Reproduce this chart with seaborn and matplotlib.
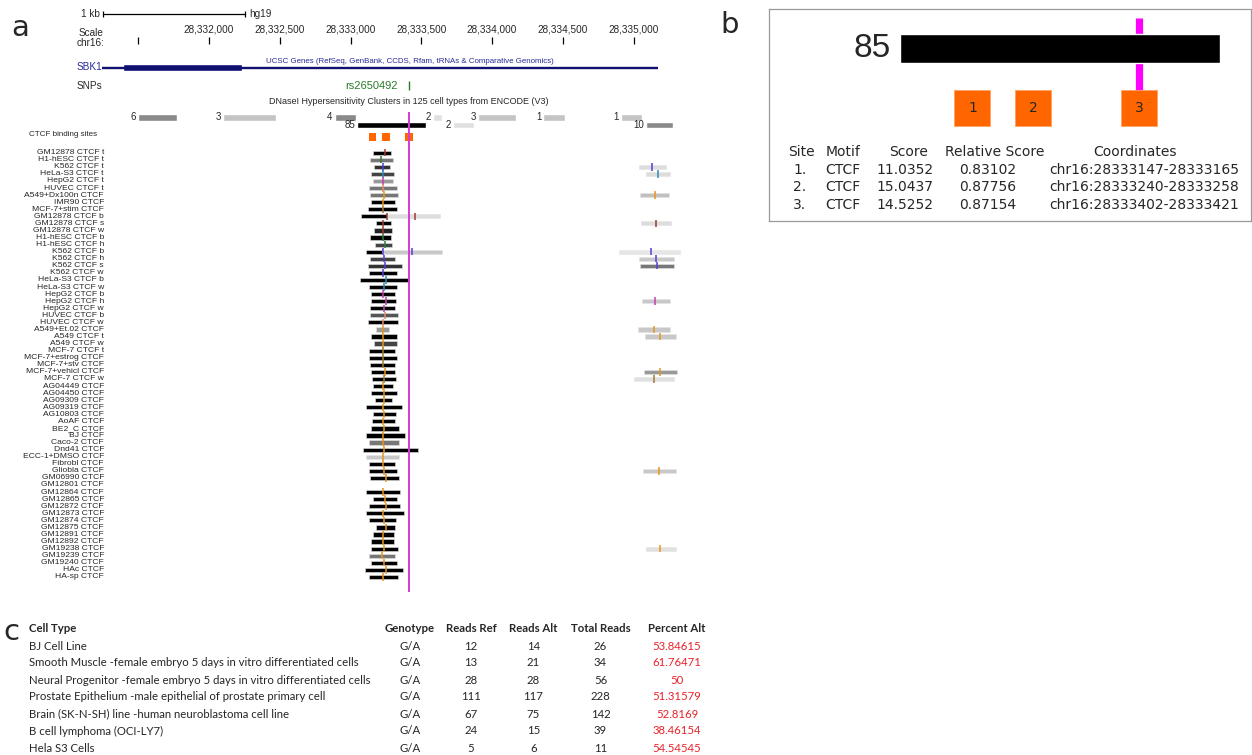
import numpy as np
import pandas as pd
import seaborn as sns
import matplotlib.pyplot as plt

# Figure size in pixels (saved at dpi=100)
W, H = 1252, 755

# ---------------- data ----------------
snp_name = "rs2650492"
snp_pos = 28333411

gene_name = "SBK1"
gene_start, gene_end = 28331245, 28335172
gene_cds_start, gene_cds_end = 28331395, 28332235

scale_ticks = [28331500, 28332000, 28332500, 28333000, 28333500, 28334000, 28334500, 28335000]

# DNaseI clusters (score = number of cell types)
dnase_start = [28331496, 28332099, 28332887, 28333045, 28333583, 28333724, 28333904, 28334363, 28334909, 28335087]
dnase_end = [28331773, 28332473, 28333037, 28333535, 28333643, 28333872, 28334169, 28334515, 28335059, 28335278]
dnase_score = [6, 3, 4, 85, 2, 2, 3, 1, 1, 10]
dnase_row = [0, 0, 0, 1, 0, 1, 0, 0, 0, 1]
dnase_shade = ["#8a8a8a", "#c4c4c4", "#8a8a8a", "#000000", "#e0e0e0",
               "#e0e0e0", "#c4c4c4", "#c4c4c4", "#c4c4c4", "#8a8a8a"]

# CTCF motif sites
site_start = [28333147, 28333240, 28333402]
site_end = [28333165, 28333258, 28333421]
site_motif = ["CTCF", "CTCF", "CTCF"]
site_score = ["11.0352", "15.0437", "14.5252"]
site_rel_score = ["0.83102", "0.87756", "0.87154"]

ctcf_tracks = [
    "GM12878 CTCF t", "H1-hESC CTCF t", "K562 CTCF t", "HeLa-S3 CTCF t", "HepG2 CTCF t",
    "HUVEC CTCF t", "A549+Dx100n CTCF", "IMR90 CTCF", "MCF-7+stim CTCF", "GM12878 CTCF b",
    "GM12878 CTCF s", "GM12878 CTCF w", "H1-hESC CTCF b", "H1-hESC CTCF h", "K562 CTCF b",
    "K562 CTCF h", "K562 CTCF s", "K562 CTCF w", "HeLa-S3 CTCF b", "HeLa-S3 CTCF w",
    "HepG2 CTCF b", "HepG2 CTCF h", "HepG2 CTCF w", "HUVEC CTCF b", "HUVEC CTCF w",
    "A549+Et.02 CTCF", "A549 CTCF t", "A549 CTCF w", "MCF-7 CTCF t", "MCF-7+estrog CTCF",
    "MCF-7+stv CTCF", "MCF-7+vehicl CTCF", "MCF-7 CTCF w", "AG04449 CTCF", "AG04450 CTCF",
    "AG09309 CTCF", "AG09319 CTCF", "AG10803 CTCF", "AoAF CTCF", "BE2_C CTCF",
    "BJ CTCF", "Caco-2 CTCF", "Dnd41 CTCF", "ECC-1+DMSO CTCF", "Fibrobl CTCF",
    "Gliobla CTCF", "GM06990 CTCF", "GM12801 CTCF", "GM12864 CTCF", "GM12865 CTCF",
    "GM12872 CTCF", "GM12873 CTCF", "GM12874 CTCF", "GM12875 CTCF", "GM12891 CTCF",
    "GM12892 CTCF", "GM19238 CTCF", "GM19239 CTCF", "GM19240 CTCF", "HAc CTCF",
    "HA-sp CTCF",
]

# peak over the SNP cluster, one per track (None = no peak)
main_start = [28333157, 28333137, 28333166, 28333147, 28333157, 28333128, 28333135, 28333147, 28333123, 28333076,
              28333182, 28333166, 28333135, 28333171, 28333109, 28333140, 28333121, 28333128, 28333067, 28333133,
              28333142, 28333147, 28333137, 28333137, 28333123, 28333178, 28333142, 28333166, 28333130, 28333128,
              28333137, 28333147, 28333152, 28333159, 28333142, 28333173, 28333111, 28333159, 28333152, 28333147,
              28333109, 28333128, 28333086, 28333111, 28333133, 28333128, 28333137, None, 28333107, 28333161,
              28333128, 28333111, 28333133, 28333182, 28333159, 28333147, 28333142, 28333133, 28333147, 28333102,
              28333128]
main_end = [28333286, 28333302, 28333281, 28333307, 28333302, 28333326, 28333337, 28333312, 28333326, 28333260,
            28333284, 28333291, 28333286, 28333291, 28333224, 28333316, 28333361, 28333326, 28333415, 28333326,
            28333312, 28333321, 28333314, 28333337, 28333337, 28333270, 28333326, 28333326, 28333314, 28333326,
            28333312, 28333314, 28333319, 28333298, 28333326, 28333291, 28333361, 28333321, 28333314, 28333345,
            28333387, 28333340, 28333475, 28333340, 28333314, 28333330, 28333345, None, 28333352, 28333330,
            28333349, 28333376, 28333319, 28333316, 28333305, 28333305, 28333337, 28333316, 28333326, 28333371,
            28333337]
main_summit = [28333243, 28333217, 28333231, 28333227, 28333227, 28333227, 28333239, 28333231, 28333227, 28333260,
               28333231, 28333231, 28333227, 28333246, 28333231, 28333239, 28333246, 28333227, 28333248, 28333239,
               28333229, 28333251, 28333234, 28333241, 28333231, 28333231, 28333231, 28333231, 28333227, 28333227,
               28333227, 28333241, 28333236, 28333231, 28333236, 28333236, 28333231, 28333239, 28333231, 28333236,
               28333231, 28333231, 28333239, 28333227, 28333231, 28333239, 28333248, None, 28333231, 28333246,
               28333248, 28333231, 28333239, 28333253, 28333227, 28333231, 28333239, 28333224, 28333239, 28333248,
               28333231]
main_shade = ["#000000", "#777777", "#333333", "#444444", "#999999", "#777777", "#777777", "#000000", "#000000", "#000000",
              "#000000", "#222222", "#000000", "#444444", "#000000", "#444444", "#333333", "#000000", "#000000", "#000000",
              "#000000", "#000000", "#000000", "#555555", "#000000", "#999999", "#000000", "#444444", "#000000", "#000000",
              "#000000", "#000000", "#000000", "#000000", "#000000", "#000000", "#000000", "#000000", "#000000", "#000000",
              "#000000", "#777777", "#000000", "#c8c8c8", "#000000", "#000000", "#000000", None, "#000000", "#000000",
              "#000000", "#000000", "#000000", "#000000", "#000000", "#000000", "#000000", "#777777", "#000000", "#000000",
              "#000000"]

# weak peaks that extend right of the main peak
ext_track = ["GM12878 CTCF b", "K562 CTCF b"]
ext_start = [28333260, 28333224]
ext_end = [28333634, 28333646]
ext_summit = [28333458, 28333432]
ext_shade = ["#dddddd", "#c8c8c8"]

# peaks near the right edge of the window
right_track = ["K562 CTCF t", "HeLa-S3 CTCF t", "A549+Dx100n CTCF", "GM12878 CTCF s", "K562 CTCF b",
               "K562 CTCF h", "K562 CTCF s", "HepG2 CTCF h", "A549+Et.02 CTCF", "A549 CTCF t",
               "MCF-7+vehicl CTCF", "MCF-7 CTCF w", "Gliobla CTCF", "GM19238 CTCF"]
right_start = [28335038, 28335087, 28335045, 28335052, 28334899, 28335038, 28335043, 28335059, 28335033, 28335080,
               28335073, 28335003, 28335066, 28335087]
right_end = [28335227, 28335255, 28335248, 28335266, 28335330, 28335283, 28335283, 28335255, 28335259, 28335299,
             28335306, 28335283, 28335297, 28335297]
right_summit = [28335132, 28335174, 28335149, 28335160, 28335121, 28335160, 28335165, 28335153, 28335144, 28335188,
                28335188, 28335144, 28335181, 28335188]
right_shade = ["#dddddd", "#dddddd", "#c0c0c0", "#dddddd", "#e6e6e6", "#c8c8c8", "#777777", "#c8c8c8", "#c8c8c8",
               "#c8c8c8", "#999999", "#e0e0e0", "#c8c8c8", "#e0e0e0"]

# summit tick colours by cell line
cell_color = {"GM12878": "#9c3d2e", "H1-hESC": "#2e7d3a", "K562": "#4f3fd6", "HeLa-S3": "#2b8fb5",
              "HepG2": "#c23fb0", "HUVEC": "#e08c6c", "MCF-7": "#a87a2e", "MCF-7+stim": "#a87a2e",
              "MCF-7+estrog": "#a87a2e", "MCF-7+stv": "#a87a2e"}
default_tick = "#e8951c"

# panel c: allele-specific reads
cell_types = ["BJ Cell Line",
              "Smooth Muscle -female embryo 5 days in vitro differentiated cells",
              "Neural Progenitor -female embryo 5 days in vitro differentiated cells",
              "Prostate Epithelium -male epithelial of prostate primary cell",
              "Brain (SK-N-SH) line -human neuroblastoma cell line",
              "B cell lymphoma (OCI-LY7)",
              "Hela S3 Cells"]
genotype = ["G/A"] * 7
reads_ref = [12, 13, 28, 111, 67, 24, 5]
reads_alt = [14, 21, 28, 117, 75, 15, 6]
total_reads = [26, 34, 56, 228, 142, 39, 11]
percent_alt = ["53.84615", "61.76471", "50", "51.31579", "52.8169", "38.46154", "54.54545"]

# ---------------- layout ----------------
sns.set_theme(style="white")
plt.rcParams["font.family"] = ["Liberation Sans", "DejaVu Sans"]

fig = plt.figure(figsize=(W / 100, H / 100), dpi=100)


def px_axes(x0, y0, x1, y1):
    return fig.add_axes([x0 / W, 1 - y1 / H, (x1 - x0) / W, (y1 - y0) / H])


# panel a: genome browser, x in bp, y in pixel rows
A_W, A_H = 700, 600
BP_PER_PX = 7.065
REF_PX = 350.54  # pixel column of 28,333,000
ax_a = px_axes(0, 0, A_W, A_H)
ax_a.set_xlim(28333000 - REF_PX * BP_PER_PX, 28333000 + (A_W - REF_PX) * BP_PER_PX)
ax_a.set_ylim(A_H, 0)
ax_a.axis("off")

# 1 kb ruler
ruler_left = 28331251
ax_a.plot([ruler_left, ruler_left + 1000], [14, 14], color="black", lw=0.9)
ax_a.vlines([ruler_left, ruler_left + 1000], 11, 17, color="black", lw=0.9)
ax_a.annotate("1 kb", (ruler_left, 14), xytext=(-3, 0), textcoords="offset pixels",
              ha="right", va="center", fontsize=7.2)
ax_a.annotate("hg19", (ruler_left + 1000, 14), xytext=(5, 0), textcoords="offset pixels",
              ha="left", va="center", fontsize=7.2)

# chromosome scale
ax_a.vlines(scale_ticks, 36.7, 44.3, color="black", lw=0.9)
for t in scale_ticks[1:]:
    ax_a.text(t, 30, f"{t:,}", ha="center", va="center", fontsize=7.2)

# gene model
navy = "#101070"
ax_a.plot([gene_start, gene_end], [67.5, 67.5], color=navy, lw=1.7, solid_capstyle="butt")
ax_a.barh(67.3, gene_cds_end - gene_cds_start, left=gene_cds_start, height=7.4, color=navy)

# SNP
ax_a.vlines(snp_pos, 81, 90, color="#2a7a2a", lw=1)
ax_a.annotate(snp_name, (snp_pos, 85.7), xytext=(-11, 0), textcoords="offset pixels",
              ha="right", va="center", fontsize=8, color="#2a7a2a")

# DNaseI clusters
for s, e, sc, r, c in zip(dnase_start, dnase_end, dnase_score, dnase_row, dnase_shade):
    y = 117.5 + r * 7.2
    ax_a.barh(y, e - s, left=s, height=6.4, color=c)
    ax_a.annotate(str(sc), (s, y), xytext=(-2, 0), textcoords="offset pixels",
                  ha="right", va="center", fontsize=7)

# CTCF motif sites
site_mid = [(s + e) / 2 for s, e in zip(site_start, site_end)]
sns.scatterplot(x=site_mid, y=[137] * len(site_mid), marker="s", s=30, color="#ff6600",
                edgecolor="none", ax=ax_a, zorder=3)

# SNP line through the tracks
ax_a.vlines(snp_pos, 112, 592, color="#d63bd6", lw=1.4, zorder=4)

# CTCF tracks
TRACK_Y0, TRACK_DY = 152.7, 7.07
track_y = {name: TRACK_Y0 + i * TRACK_DY for i, name in enumerate(ctcf_tracks)}

rows = []
for name, s, e, sm, c in zip(ctcf_tracks, main_start, main_end, main_summit, main_shade):
    if s is not None:
        rows.append((name, s, e, sm, c))
for grp in [zip(ext_track, ext_start, ext_end, ext_summit, ext_shade),
            zip(right_track, right_start, right_end, right_summit, right_shade)]:
    rows.extend(grp)
peaks = pd.DataFrame(rows, columns=["track", "start", "end", "summit", "shade"])
peaks["y"] = peaks["track"].map(track_y)
peaks["cell"] = peaks["track"].str.split().str[0]

ax_a.barh(peaks["y"], peaks["end"] - peaks["start"], left=peaks["start"], height=4.2,
          color=peaks["shade"], edgecolor="#e4e4e4", linewidth=0.4, zorder=2)

palette = {c: cell_color.get(c, default_tick) for c in peaks["cell"].unique()}
sns.scatterplot(data=peaks, x="summit", y="y", hue="cell", palette=palette, marker="|",
                s=28, linewidth=1.1, legend=False, ax=ax_a, zorder=3)
ax_a.set_xlabel("")
ax_a.set_ylabel("")

# panel b: zoom on the 85 cluster
cl_start, cl_end = dnase_start[3], dnase_end[3]
B_X0, B_X1, B_Y0, B_Y1 = 769, 1251, 9, 221
BAR_PX0, BAR_PX1 = 900, 1220
bpp = (cl_end - cl_start) / (BAR_PX1 - BAR_PX0)
ax_b = px_axes(B_X0, B_Y0, B_X1, B_Y1)
ax_b.set_xlim(cl_start - (BAR_PX0 - B_X0) * bpp, cl_end + (B_X1 - BAR_PX1) * bpp)
ax_b.set_ylim(B_Y1, B_Y0)
ax_b.set_xticks([])
ax_b.set_yticks([])
for sp in ax_b.spines.values():
    sp.set_visible(True)
    sp.set_color("#999999")
    sp.set_linewidth(0.9)

ax_b.vlines(snp_pos, 18.3, 93, color="#ff00ff", lw=5.2, zorder=1)
ax_b.barh(48.5, cl_end - cl_start, left=cl_start, height=28.4, color="black", zorder=2)
ax_b.annotate(str(dnase_score[3]), (cl_start, 48.5), xytext=(-9, 0), textcoords="offset pixels",
              ha="right", va="center", fontsize=24)
sns.scatterplot(x=site_mid, y=[107.5] * 3, marker="s", s=640, color="#ff6600",
                edgecolor="#ffa060", linewidth=0.6, ax=ax_b, zorder=3)
for i, m in enumerate(site_mid):
    ax_b.text(m, 108, str(i + 1), ha="center", va="center", fontsize=10,
              family="DejaVu Sans", zorder=4)
ax_b.set_xlabel("")
ax_b.set_ylabel("")

# overlay for free text, in pixel coordinates
ax_t = px_axes(0, 0, W, H)
ax_t.set_xlim(0, W)
ax_t.set_ylim(H, 0)
ax_t.axis("off")
ax_t.patch.set_alpha(0)

# panel letters
for letter, x, y in [("a", 20.5, 28), ("b", 729.5, 25), ("c", 11.5, 632)]:
    ax_t.text(x, y, letter, ha="center", va="center", fontsize=21, family="DejaVu Sans")

ax_t.text(91.5, 33.3, "Scale", ha="center", va="center", fontsize=7.2)
ax_t.text(91, 43.5, "chr16:", ha="center", va="center", fontsize=7.2)
ax_t.text(77, 67.3, gene_name, ha="left", va="center", fontsize=7.2, color="#2a2a9a")
ax_t.text(410, 61.5, "UCSC Genes (RefSeq, GenBank, CCDS, Rfam, tRNAs & Comparative Genomics)",
          ha="center", va="center", fontsize=5.7, color="#2a2a9a")
ax_t.text(77, 85.7, "SNPs", ha="left", va="center", fontsize=7.2)
ax_t.text(409, 101, "DNaseI Hypersensitivity Clusters in 125 cell types from ENCODE (V3)",
          ha="center", va="center", fontsize=6.5)
ax_t.text(29.3, 134, "CTCF binding sites", ha="left", va="center", fontsize=5.8)
for name, y in track_y.items():
    ax_t.text(104, y, name, ha="right", va="center", fontsize=6.1)

# panel b table
b_head_x = [801.7, 842.7, 908.7, 994.3, 1135]
b_val_x = [800, 842.7, 905, 987.7, 1144]
for x, t in zip(b_head_x, ["Site", "Motif", "Score", "Relative Score", "Coordinates"]):
    ax_t.text(x, 151.7, t, ha="center", va="center", fontsize=10, family="DejaVu Sans")
for i, y in enumerate([170, 187.3, 204.7]):
    vals = [f"{i + 1}.", site_motif[i], site_score[i], site_rel_score[i],
            f"chr16:{site_start[i]}-{site_end[i]}"]
    for x, t in zip(b_val_x, vals):
        ax_t.text(x, y, t, ha="center", va="center", fontsize=10, family="DejaVu Sans")

# panel c table
c_font = dict(fontsize=8.2, family="Lato", va="center")
ax_t.text(29, 629, "Cell Type", ha="left", fontweight="bold", **c_font)
c_cols = [410, 471, 533.5, 600.5, 677]
for x, t in zip(c_cols, ["Genotype", "Reads Ref", "Reads Alt", "Total Reads", "Percent Alt"]):
    ax_t.text(x, 629, t, ha="center", fontweight="bold", **c_font)
for i in range(len(cell_types)):
    y = 646 + i * 17
    ax_t.text(29, y, cell_types[i], ha="left", **c_font)
    vals = [genotype[i], reads_ref[i], reads_alt[i], total_reads[i]]
    for x, v in zip(c_cols, vals):
        ax_t.text(x, y, str(v), ha="center", **c_font)
    ax_t.text(c_cols[-1], y, percent_alt[i], ha="center", color="#e8232b", **c_font)

fig.savefig("out.png", dpi=100)
